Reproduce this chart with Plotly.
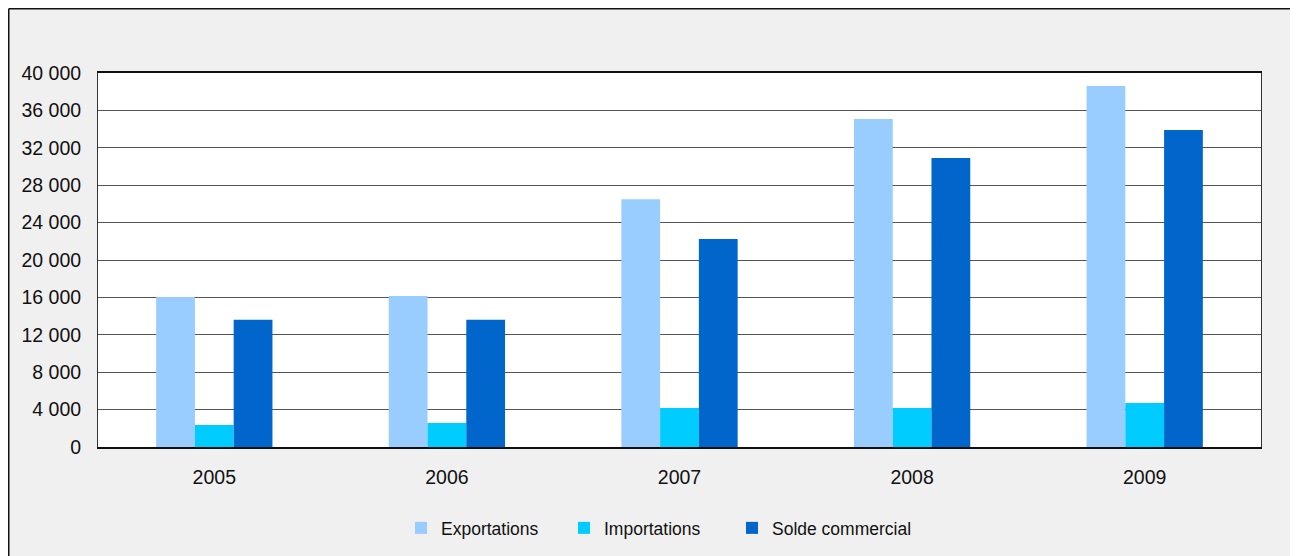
import plotly.graph_objects as go

years = ["2005", "2006", "2007", "2008", "2009"]
exportations = [16050, 16150, 26500, 35080, 38600]
importations = [2350, 2570, 4170, 4170, 4700]
solde = [13600, 13600, 22250, 30900, 33900]
series_names = ["Exportations", "Importations", "Solde commercial"]
series_colors = ["#99CCFF", "#00CCFF", "#0066CC"]

# figure sits in the page at (8, 8) because of the body margin
W, H = 1290, 548
L, R, T, B = 90, 1253, 65, 439  # plot area pixel bounds (figure coords)
LEG_LEFT = [393, 556, 724]      # legend box left edges (figure px)
LEG_Y = 520

def px(x):
    return (x - L) / (R - L)

def py(y):
    return (B - y) / (B - T)

fig = go.Figure()
legend_ids = ["legend", "legend2", "legend3"]
for name, vals, col, lid in zip(series_names, [exportations, importations, solde],
                                series_colors, legend_ids):
    fig.add_trace(go.Bar(x=years, y=vals, name=name, legend=lid,
                         marker=dict(color=col, line=dict(width=0))))

font = "Liberation Sans, Arial, sans-serif"
shapes = [
    dict(type="line", xref="paper", yref="paper", x0=px(0.75), x1=px(W + 5), y0=py(0.75), y1=py(0.75),
         line=dict(color="#111111", width=1.5)),
    dict(type="line", xref="paper", yref="paper", x0=px(0.75), x1=px(0.75), y0=py(H + 5), y1=py(0.75),
         line=dict(color="#111111", width=1.5)),
]

leg_common = dict(orientation="h", yanchor="middle", xanchor="left",
                  font=dict(size=17.5, family=font, color="#111111"),
                  bgcolor="rgba(0,0,0,0)", borderwidth=0, itemwidth=30)

fig.update_layout(
    width=W, height=H,
    margin=dict(l=L, r=W - R, t=T, b=H - B, pad=0, autoexpand=False),
    paper_bgcolor="#F0F0F0",
    plot_bgcolor="white",
    barmode="group",
    bargap=0.5,
    bargroupgap=0,
    separators=", ",
    font=dict(family=font, color="#111111"),
    showlegend=True,
    legend=dict(x=px(LEG_LEFT[0]), y=py(LEG_Y), **leg_common),
    legend2=dict(x=px(LEG_LEFT[1]), y=py(LEG_Y), **leg_common),
    legend3=dict(x=px(LEG_LEFT[2]), y=py(LEG_Y), **leg_common),
    shapes=shapes,
    hovermode=False,
)
fig.update_xaxes(showline=True, linecolor="#111111", linewidth=1.5, mirror=True,
                 tickfont=dict(size=19.5, family=font, color="#111111"),
                 ticks="", ticklabelstandoff=12)
fig.update_yaxes(range=[0, 40000], dtick=4000, tickformat=",d",
                 showgrid=True, gridcolor="#555555", gridwidth=1,
                 showline=True, linecolor="#333333", linewidth=1, mirror=True,
                 tickfont=dict(size=19.5, family=font, color="#111111"),
                 ticks="", ticklabelstandoff=12, zeroline=False)

fig.write_html("out.html")
